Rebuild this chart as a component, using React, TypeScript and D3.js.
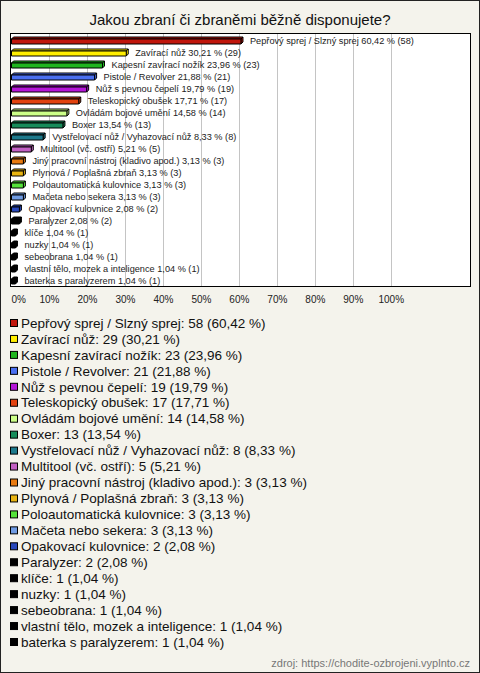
import React from "react";
import * as d3 from "d3";

const TITLE = "Jakou zbraní či zbraněmi běžně disponujete?";
const SOURCE = "zdroj: https://chodite-ozbrojeni.vyplnto.cz";

const categories = [
  "Pepřový sprej / Slzný sprej",
  "Zavírací nůž",
  "Kapesní zavírací nožík",
  "Pistole / Revolver",
  "Nůž s pevnou čepelí",
  "Teleskopický obušek",
  "Ovládám bojové umění",
  "Boxer",
  "Vystřelovací nůž / Vyhazovací nůž",
  "Multitool (vč. ostří)",
  "Jiný pracovní nástroj (kladivo apod.)",
  "Plynová / Poplašná zbraň",
  "Poloautomatická kulovnice",
  "Mačeta nebo sekera",
  "Opakovací kulovnice",
  "Paralyzer",
  "klíče",
  "nuzky",
  "sebeobrana",
  "vlastní tělo, mozek a inteligence",
  "baterka s paralyzerem",
];

const counts = [58, 29, 23, 21, 19, 17, 14, 13, 8, 5, 3, 3, 3, 3, 2, 2, 1, 1, 1, 1, 1];
const percents = [60.42, 30.21, 23.96, 21.88, 19.79, 17.71, 14.58, 13.54, 8.33, 5.21, 3.13, 3.13, 3.13, 3.13, 2.08, 2.08, 1.04, 1.04, 1.04, 1.04, 1.04];

const colors = [
  "#c0160c", "#ffee00", "#1fb51f", "#4a6ff0", "#b516d8", "#e2420f", "#ccff88",
  "#178c5a", "#1d7a8c", "#c260c4", "#e87a10", "#e8b412", "#55e33a", "#6f9be3",
  "#2848bb", "#000000", "#000000", "#000000", "#000000", "#000000", "#000000",
];

const ticks = [0, 10, 20, 30, 40, 50, 60, 70, 80, 90, 100];

const fmt = (v: number) => v.toFixed(2).replace(".", ",");

export default function App() {
  const W = 480;
  const H = 673;
  const plot = { left: 10.5, top: 33.5, right: 470.5, bottom: 286.5 };
  const x = d3.scaleLinear().domain([0, 100]).range([11.5, 391.3]);
  const y = d3
    .scaleBand<number>()
    .domain(d3.range(categories.length))
    .range([34.5, 286.5]);
  const legendY = d3
    .scalePoint<number>()
    .domain(d3.range(categories.length))
    .range([323, 642]);
  const d = 2;
  const bh = 5;
  const font = "Arial, 'Liberation Sans', sans-serif";

  return (
    <svg
      width={W}
      height={H}
      style={{ position: "absolute", left: 0, top: 0 }}
      fontFamily={font}
    >
      <rect x={0.5} y={0.5} width={W - 1} height={H - 1} fill="#f4f3ec" stroke="#222" />
      <text x={W / 2} y={25} textAnchor="middle" fontSize={15} fill="#111">
        {TITLE}
      </text>
      <rect
        x={plot.left}
        y={plot.top}
        width={plot.right - plot.left}
        height={plot.bottom - plot.top}
        fill="#fff"
      />
      {ticks.slice(1).map((t) => (
        <line
          key={t}
          x1={Math.round(x(t)) + 0.5}
          x2={Math.round(x(t)) + 0.5}
          y1={plot.top}
          y2={plot.bottom}
          stroke="#c4c4c4"
        />
      ))}
      {categories.map((c, i) => {
        const cy = (y(i) as number) + y.bandwidth() / 2 + 1;
        const x0 = x(0);
        const x1 = x(percents[i]);
        const y0 = cy - bh / 2;
        const y1 = cy + bh / 2;
        return (
          <g key={c} stroke="#000" strokeWidth={1} strokeLinejoin="round">
            <polygon
              points={`${x0},${y0} ${x0 + d},${y0 - d} ${x1 + d},${y0 - d} ${x1},${y0}`}
              fill={colors[i]}
            />
            <polygon
              points={`${x1},${y0} ${x1 + d},${y0 - d} ${x1 + d},${y1 - d} ${x1},${y1}`}
              fill={colors[i]}
            />
            <rect x={x0} y={y0} width={x1 - x0} height={bh} fill={colors[i]} />
            <text
              x={x1 + 9}
              y={cy - 1}
              dy="0.35em"
              fontSize={9.2}
              fill="#222"
              stroke="none"
            >
              {`${c} ${fmt(percents[i])} % (${counts[i]})`}
            </text>
          </g>
        );
      })}
      <rect
        x={plot.left}
        y={plot.top}
        width={plot.right - plot.left}
        height={plot.bottom - plot.top}
        fill="none"
        stroke="#000"
      />
      {ticks.map((t, i) => (
        <text
          key={t}
          x={x(t)}
          y={299}
          dy="0.35em"
          textAnchor={i === 0 ? "start" : "middle"}
          fontSize={10}
          fill="#222"
        >
          {`${t}%`}
        </text>
      ))}
      {categories.map((c, i) => {
        const cy = legendY(i) as number;
        return (
          <g key={"l" + c}>
            <rect x={10.5} y={cy - 3.5} width={7} height={7} fill={colors[i]} stroke="#000" />
            <text x={21} y={cy} dy="0.35em" fontSize={13.5} fill="#111">
              {`${c}: ${counts[i]} (${fmt(percents[i])} %)`}
            </text>
          </g>
        );
      })}
      <text x={470} y={663} dy="0.35em" textAnchor="end" fontSize={11} fill="#777">
        {SOURCE}
      </text>
    </svg>
  );
}
